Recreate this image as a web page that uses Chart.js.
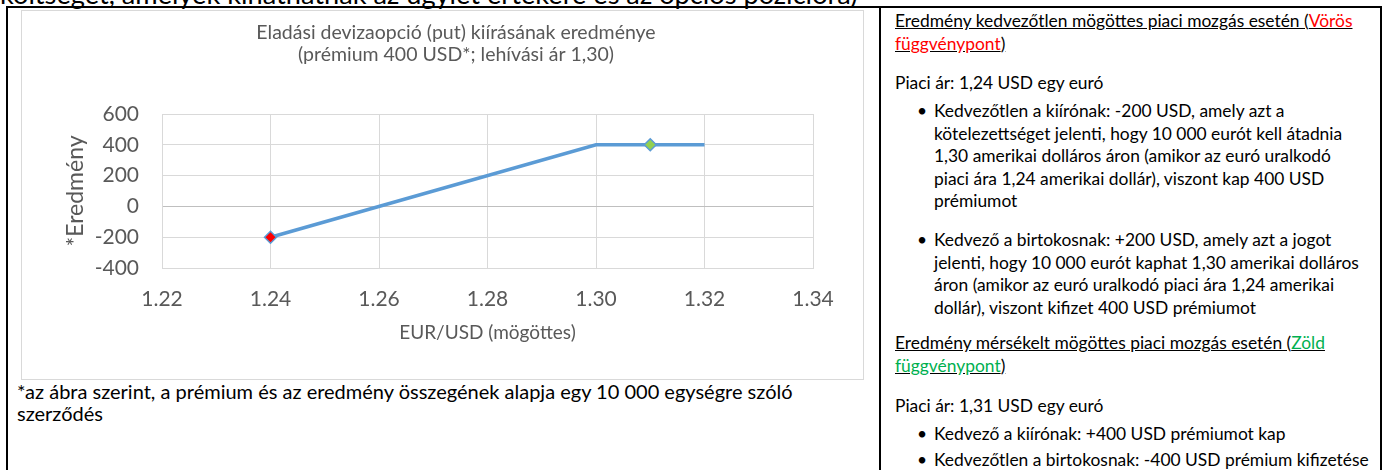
<!DOCTYPE html>
<html lang="hu">
<head>
<meta charset="utf-8">
<title>Eladási devizaopció (put) kiírásának eredménye</title>
<script src="https://cdn.jsdelivr.net/npm/chart.js@4.4.1/dist/chart.umd.min.js"></script>
<style>
  html, body { margin: 0; padding: 0; background: #fff; }
  body { width: 1385px; height: 470px; position: relative; overflow: hidden; font-family: Lato, "Open Sans", sans-serif; color: #000; }
  .abs { position: absolute; white-space: nowrap; }
  #topline { left: 0; top: -20px; font-size: 27.2px; line-height: 27px; }
  #frame { left: 6px; top: 6px; width: 1372px; height: 480px; border: 2px solid #000; }
  #divider { left: 879px; top: 6px; width: 2px; height: 470px; background: #000; }
  #chartBox { left: 21px; top: 10px; width: 841px; height: 368px; border: 1px solid #d9d9d9; }
  #chartWrap { left: 50px; top: 12px; width: 812px; height: 364px; }
  #note { left: 17px; top: 380px; font-size: 20px; line-height: 22px; }
  .txt { font-size: 17.4px; line-height: 22.6px; }
  .u { text-decoration: underline; }
  .red { color: #ff0000; }
  .green { color: #00b050; }
  .item span.b { position: absolute; left: -17px; }
</style>
</head>
<body>
<div id="topline" class="abs">költséget, amelyek kihathatnak az ügylet értékére és az opciós pozícióra)</div>
<div id="frame" class="abs"></div>
<div id="divider" class="abs"></div>
<div id="chartBox" class="abs"></div>
<div id="chartWrap" class="abs"><canvas id="payoffChart" width="812" height="364"></canvas></div>
<div id="note" class="abs">*az ábra szerint, a prémium és az eredmény összegének alapja egy 10 000 egységre szóló<br>szerződés</div>

<div class="abs txt u" style="left:895px; top:10px;">Eredmény kedvezőtlen mögöttes piaci mozgás esetén (<span class="red">Vörös</span><br><span class="red">függvénypont</span>)</div>
<div class="abs txt" style="left:895px; top:72px;">Piaci ár: 1,24 USD egy euró</div>
<div class="abs txt item" style="left:934px; top:100px;"><span class="b">•</span>Kedvezőtlen a kiírónak: -200 USD, amely azt a<br>kötelezettséget jelenti, hogy 10 000 eurót kell átadnia<br>1,30 amerikai dolláros áron (amikor az euró uralkodó<br>piaci ára 1,24 amerikai dollár), viszont kap 400 USD<br>prémiumot</div>
<div class="abs txt item" style="left:934px; top:229px;"><span class="b">•</span>Kedvező a birtokosnak: +200 USD, amely azt a jogot<br>jelenti, hogy 10 000 eurót kaphat 1,30 amerikai dolláros<br>áron (amikor az euró uralkodó piaci ára 1,24 amerikai<br>dollár), viszont kifizet 400 USD prémiumot</div>
<div class="abs txt u" style="left:895px; top:332px;">Eredmény mérsékelt mögöttes piaci mozgás esetén (<span class="green">Zöld</span><br><span class="green">függvénypont</span>)</div>
<div class="abs txt" style="left:895px; top:395px;">Piaci ár: 1,31 USD egy euró</div>
<div class="abs txt item" style="left:934px; top:423px;"><span class="b">•</span>Kedvező a kiírónak: +400 USD prémiumot kap</div>
<div class="abs txt item" style="left:934px; top:449px;"><span class="b">•</span>Kedvezőtlen a birtokosnak: -400 USD prémium kifizetése</div>

<script>
// tick labels
const xTicks = [1.22, 1.24, 1.26, 1.28, 1.30, 1.32, 1.34];
const yTicks = [-400, -200, 0, 200, 400, 600];

// payoff line (put writer)
const payoffX = [1.24, 1.30, 1.32];
const payoffY = [-200, 400, 400];

// highlighted points: red (unfavourable), green (moderate)
const markedX = [1.24, 1.31];
const markedY = [-200, 400];

const gray = "#595959";
const gridGray = "#d9d9d9";

function toPoints(xs, ys) {
  return xs.map((x, i) => ({ x: x, y: ys[i] }));
}

const ctx = document.getElementById("payoffChart");

new Chart(ctx, {
  type: "scatter",
  data: {
    datasets: [
      {
        label: "Függvénypontok",
        data: toPoints(markedX, markedY),
        showLine: false,
        pointStyle: "rectRot",
        pointRadius: 6,
        pointBorderWidth: 1.5,
        pointBorderColor: "#5b9bd5",
        pointBackgroundColor: ["#ff0000", "#92d050"],
        order: 0
      },
      {
        label: "Eredmény",
        data: toPoints(payoffX, payoffY),
        showLine: true,
        borderColor: "#5b9bd5",
        borderWidth: 3.5,
        pointRadius: 0,
        tension: 0,
        order: 1
      }
    ]
  },
  options: {
    responsive: false,
    animation: false,
    plugins: {
      legend: { display: false },
      tooltip: { enabled: false },
      title: {
        display: true,
        text: ["Eladási devizaopció (put) kiírásának eredménye", "(prémium 400 USD*; lehívási ár 1,30)"],
        color: gray,
        font: { family: "Lato", size: 19.5, weight: "normal", lineHeight: "22px" },
        padding: { top: 10, bottom: 48 }
      }
    },
    scales: {
      x: {
        type: "linear",
        min: 1.22,
        max: 1.34,
        afterBuildTicks: s => { s.ticks = xTicks.map(v => ({ value: v })); },
        afterFit: s => { s.height = 108; },
        grid: { color: gridGray, drawTicks: false },
        border: { color: gridGray },
        ticks: {
          color: gray,
          padding: 19,
          font: { family: "Lato", size: 21 },
          callback: v => v.toFixed(2)
        },
        title: {
          display: true,
          text: "EUR/USD (mögöttes)",
          color: gray,
          font: { family: "Lato", size: 19 },
          padding: { top: 0, bottom: 32 }
        }
      },
      y: {
        type: "linear",
        min: -400,
        max: 600,
        afterBuildTicks: s => { s.ticks = yTicks.map(v => ({ value: v })); },
        afterFit: s => { s.width = 112; },
        grid: {
          color: c => (c.tick && c.tick.value === 0 ? "#bfbfbf" : gridGray),
          drawTicks: false
        },
        border: { color: gridGray },
        ticks: {
          color: gray,
          padding: 23,
          font: { family: "Lato", size: 21 }
        },
        title: {
          display: true,
          text: "*Eredmény",
          color: gray,
          font: { family: "Lato", size: 23 },
          padding: { top: 12, bottom: 0 }
        }
      },
      // empty right-hand space of the plot
      yRight: {
        type: "linear",
        position: "right",
        afterFit: s => { s.width = 49; },
        grid: { drawOnChartArea: false, drawTicks: false },
        border: { display: false },
        ticks: { display: false }
      }
    }
  }
});
</script>
</body>
</html>
